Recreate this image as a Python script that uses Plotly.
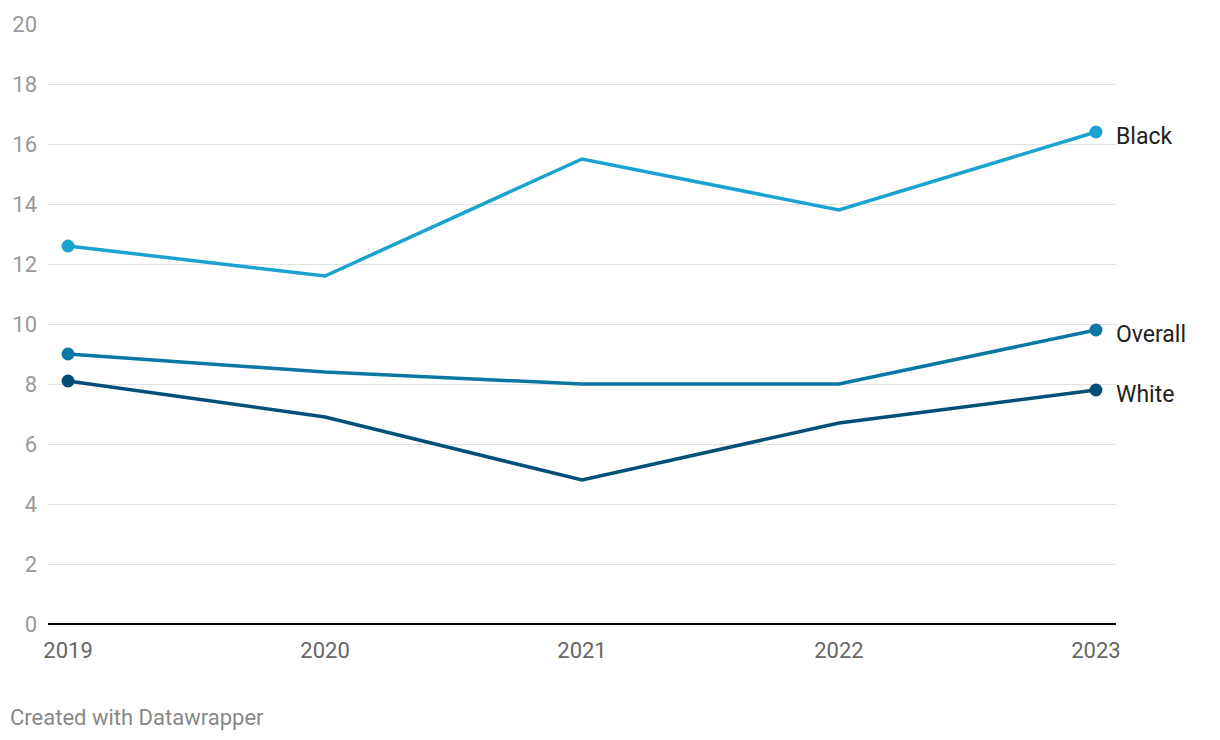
import plotly.graph_objects as go

years = [2019, 2020, 2021, 2022, 2023]
black = [12.6, 11.6, 15.5, 13.8, 16.4]
overall = [9.0, 8.4, 8.0, 8.0, 9.8]
white = [8.1, 6.9, 4.8, 6.7, 7.8]

series = [
    ("Black", black, "#1AA2D0"),
    ("Overall", overall, "#0B77A3"),
    ("White", white, "#034F78"),
]

# plot area in page pixels (page has an 8px body margin)
PL, PR, PT, PB = 48, 1116, 24, 624

fig = go.Figure()
for name, vals, color in series:
    fig.add_trace(go.Scatter(
        x=years, y=vals, mode="lines", name=name,
        line=dict(color=color, width=3.5), hoverinfo="x+y+name",
    ))
    fig.add_trace(go.Scatter(
        x=[years[0], years[-1]], y=[vals[0], vals[-1]], mode="markers",
        marker=dict(color=color, size=13), hoverinfo="skip", showlegend=False,
    ))
    fig.add_annotation(
        x=years[-1], y=vals[-1], xref="x", yref="y", text=name,
        xanchor="left", yanchor="middle", xshift=18, yshift=-4, showarrow=False,
        font=dict(family="Roboto", size=23, color="#222222"),
    )

fig.add_annotation(
    xref="paper", yref="paper",
    x=(8 - PL) / (PR - PL), y=(PB - 717) / (PB - PT),
    text="Created with Datawrapper",
    showarrow=False, xanchor="left", yanchor="middle",
    font=dict(family="Roboto", size=22, color="#888888"),
)

fig.update_layout(
    width=1204, height=724, showlegend=False,
    paper_bgcolor="white", plot_bgcolor="white",
    margin=dict(l=PL - 8, r=8 + 1204 - PR, t=PT - 8, b=8 + 724 - PB),
    font=dict(family="Roboto"),
    xaxis=dict(
        range=[2018.922, 2023.078], tickvals=years, ticktext=[str(y) for y in years],
        showgrid=False, zeroline=False, showline=False, ticks="",
        tickfont=dict(size=22, color="#666666"), ticklabelstandoff=11,
        automargin=False,
    ),
    yaxis=dict(
        range=[0, 20], tickvals=list(range(0, 21, 2)),
        showgrid=True, gridcolor="#E1E1E1", gridwidth=1,
        zeroline=True, zerolinecolor="#000000", zerolinewidth=2,
        showline=False, ticks="",
        tickfont=dict(size=22, color="#999999"), ticklabelstandoff=10,
        automargin=False,
    ),
)

fig.write_html("out.html")
